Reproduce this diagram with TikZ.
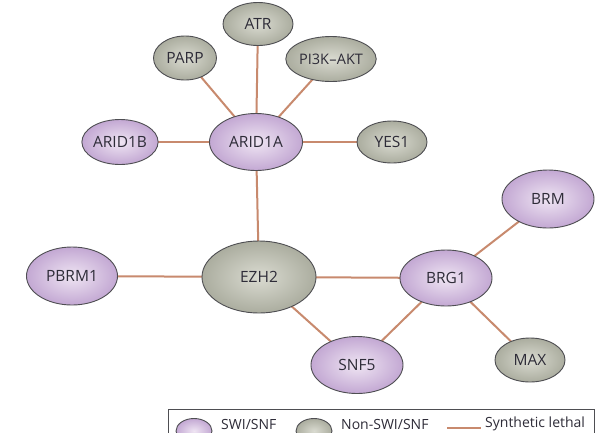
\documentclass[tikz,border=0pt]{standalone}
\usepackage{fontspec}
\setmainfont{Open Sans}
\usetikzlibrary{shapes.geometric,backgrounds}
\definecolor{edgec}{HTML}{C88A6E}
\definecolor{bordc}{HTML}{4E4E52}
\definecolor{txtc}{HTML}{2E2C38}
\definecolor{purin}{HTML}{EFE5F3}
\definecolor{purout}{HTML}{C3A8D3}
\definecolor{grin}{HTML}{DADBD1}
\definecolor{grout}{HTML}{ABAD9F}
\tikzset{
  gene/.style={ellipse, draw=bordc, line width=0.9pt, inner sep=0pt, text=txtc,
    font=\fontsize{15.5}{18}\selectfont},
  swi/.style={gene, inner color=purin, outer color=purout},
  nonswi/.style={gene, inner color=grin, outer color=grout},
  lethal/.style={draw=edgec, line width=2pt},
  legtext/.style={anchor=west, text=txtc, inner sep=0pt, font=\fontsize{14}{17}\selectfont},
}
\begin{document}
\begin{tikzpicture}[x=1pt,y=-1pt]
\useasboundingbox (0,0) rectangle (600,432);
\clip (0,0) rectangle (600,432);
% nodes
\node[nonswi, minimum width=70, minimum height=43] (atr) at (258,24) {ATR};
\node[nonswi, minimum width=63, minimum height=44] (parp) at (185,58) {PARP};
\node[nonswi, minimum width=70, minimum height=45, font=\fontsize{14.5}{17}\selectfont] (pi3k) at (331,59) {PI3K{\kern0.3pt}–{\kern0.3pt}AKT};
\node[swi, minimum width=93, minimum height=57] (arid1a) at (256,142) {ARID1A};
\node[nonswi, minimum width=70, minimum height=42] (yes1) at (392,142) {YES1};
\node[swi, minimum width=70, minimum height=45] (arid1b) at (120,142) {ARID1B};
\node[swi, minimum width=91, minimum height=58] (pbrm1) at (72,276) {PBRM1};
\node[nonswi, minimum width=114, minimum height=72] (ezh2) at (259,277) {EZH2};
\node[swi, minimum width=92, minimum height=56] (brg1) at (446,278) {BRG1};
\node[swi, minimum width=92, minimum height=57] (snf5) at (357,365) {SNF5};
\node[nonswi, minimum width=70, minimum height=44] (max) at (530,360) {MAX};
\node[swi, minimum width=92, minimum height=58] (brm) at (548,199) {BRM};
% edges
\begin{scope}[on background layer]
\fill[white] (0,0) rectangle (600,432);
\draw[lethal] (arid1a.center) -- (parp.center);
\draw[lethal] (arid1a.center) -- (atr.center);
\draw[lethal] (arid1a.center) -- (pi3k.center);
\draw[lethal] (arid1a.center) -- (arid1b.center);
\draw[lethal] (arid1a.center) -- (yes1.center);
\draw[lethal] (arid1a.center) -- (ezh2.center);
\draw[lethal] (ezh2.center) -- (pbrm1.center);
\draw[lethal] (ezh2.center) -- (brg1.center);
\draw[lethal] (ezh2.center) -- (snf5.center);
\draw[lethal] (brg1.center) -- (snf5.center);
\draw[lethal] (brg1.center) -- (brm.center);
\draw[lethal] (brg1.center) -- (max.center);
\end{scope}
% legend
\node[draw=bordc, line width=0.8pt, minimum width=426, minimum height=34, inner sep=0pt, anchor=north west] (legend) at (168,409) {};
\node[swi, minimum width=36, minimum height=25] (lswi) at (194,431) {};
\node[legtext] (tswi) at (221,424) {SWI/SNF};
\node[nonswi, minimum width=36, minimum height=25] (lnon) at (314,431) {};
\node[legtext] (tnon) at (341,424) {Non-SWI/SNF};
\coordinate (la) at (447,428);
\coordinate (lb) at (481,428);
\draw[lethal] (la) -- (lb);
\node[legtext] (tleth) at (485,424) {Synthetic lethal};
\end{tikzpicture}
\end{document}
